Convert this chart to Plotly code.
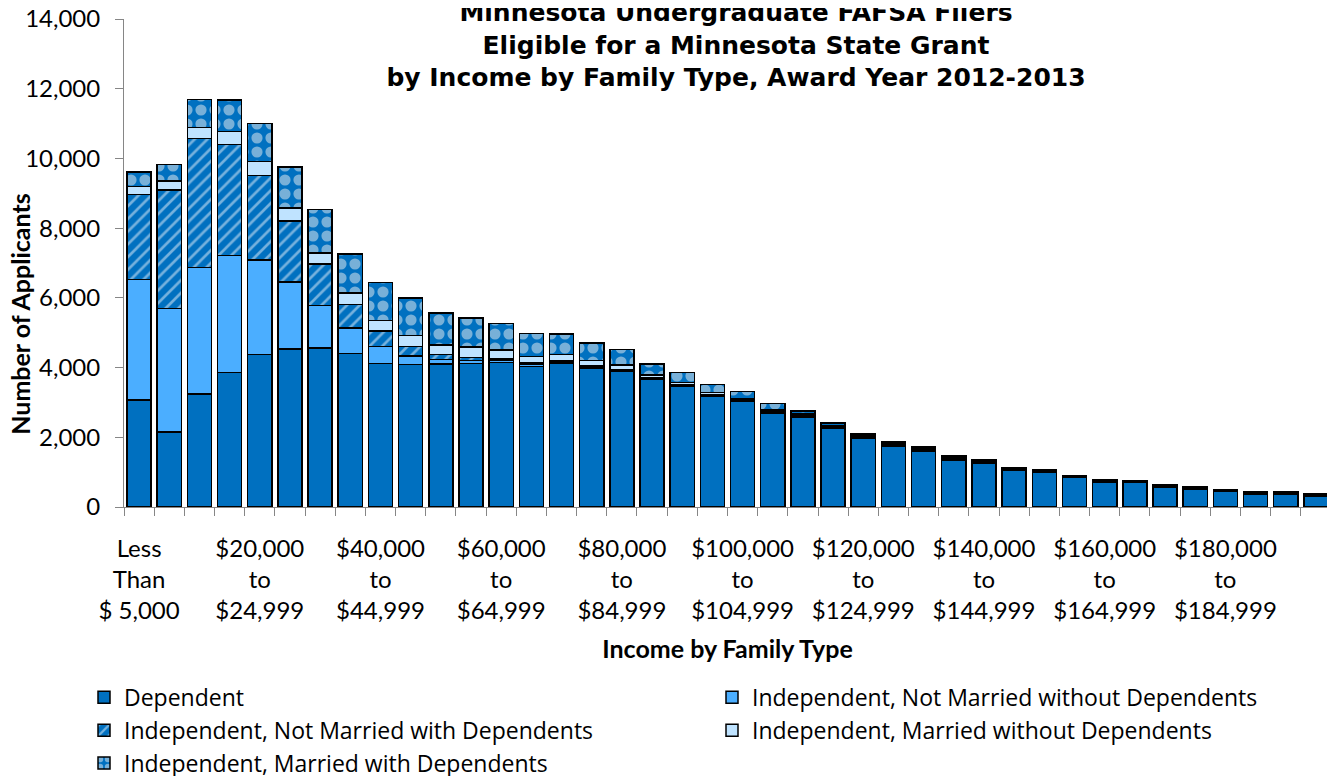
import plotly.graph_objects as go

# ---------------- data ----------------
categories = [
    "Less Than $ 5,000", "$5,000 to $9,999", "$10,000 to $14,999", "$15,000 to $19,999",
    "$20,000 to $24,999", "$25,000 to $29,999", "$30,000 to $34,999", "$35,000 to $39,999",
    "$40,000 to $44,999", "$45,000 to $49,999", "$50,000 to $54,999", "$55,000 to $59,999",
    "$60,000 to $64,999", "$65,000 to $69,999", "$70,000 to $74,999", "$75,000 to $79,999",
    "$80,000 to $84,999", "$85,000 to $89,999", "$90,000 to $94,999", "$95,000 to $99,999",
    "$100,000 to $104,999", "$105,000 to $109,999", "$110,000 to $114,999", "$115,000 to $119,999",
    "$120,000 to $124,999", "$125,000 to $129,999", "$130,000 to $134,999", "$135,000 to $139,999",
    "$140,000 to $144,999", "$145,000 to $149,999", "$150,000 to $154,999", "$155,000 to $159,999",
    "$160,000 to $164,999", "$165,000 to $169,999", "$170,000 to $174,999", "$175,000 to $179,999",
    "$180,000 to $184,999", "$185,000 to $189,999", "$190,000 to $194,999", "$195,000 to $199,999",
]

# labels shown on the axis (every fourth category)
tick_labels = [
    "Less<br>Than<br>$ 5,000", "$20,000<br>to<br>$24,999", "$40,000<br>to<br>$44,999",
    "$60,000<br>to<br>$64,999", "$80,000<br>to<br>$84,999", "$100,000<br>to<br>$104,999",
    "$120,000<br>to<br>$124,999", "$140,000<br>to<br>$144,999", "$160,000<br>to<br>$164,999",
    "$180,000<br>to<br>$184,999",
]
label_step = 4

dependent = [3071, 2146, 3243, 3853, 4368, 4530, 4559, 4406, 4120, 4082,
             4101, 4120, 4149, 4034, 4130, 3987, 3882, 3653, 3453, 3166,
             3023, 2699, 2585, 2251, 1974, 1745, 1612, 1354, 1268, 1049,
             1001, 849, 715, 715, 572, 505, 458, 372, 372, 315]

indep_not_married_no_dep = [3462, 3548, 3634, 3357, 2718, 1927, 1221, 725, 487, 248,
                            134, 76, 50, 50, 40, 40, 30, 20, 20, 20,
                            25, 30, 25, 25, 20, 20, 20, 20, 20, 15,
                            15, 10, 10, 10, 10, 10, 10, 10, 10, 10]

indep_not_married_dep = [2432, 3395, 3700, 3186, 2423, 1745, 1192, 677, 438, 277,
                         133, 96, 50, 50, 40, 30, 30, 30, 30, 30,
                         25, 30, 25, 25, 20, 20, 20, 20, 20, 15,
                         15, 12, 12, 10, 12, 12, 10, 12, 12, 12]

indep_married_no_dep = [229, 267, 315, 381, 400, 372, 315, 334, 305, 314,
                        277, 305, 250, 180, 160, 140, 130, 90, 74, 74,
                        40, 40, 30, 30, 30, 25, 25, 25, 20, 20,
                        20, 15, 15, 12, 15, 15, 12, 15, 15, 15]

indep_married_dep = [420, 468, 801, 906, 1088, 1183, 1249, 1116, 1097, 1068,
                     915, 820, 763, 668, 600, 506, 440, 315, 276, 229,
                     196, 177, 91, 72, 54, 50, 40, 40, 36, 26,
                     27, 20, 21, 16, 20, 30, 15, 20, 20, 20]

series_names = [
    "Dependent",
    "Independent, Not Married without Dependents",
    "Independent, Not Married with Dependents",
    "Independent, Married without Dependents",
    "Independent, Married with Dependents",
]

# ---------------- styles ----------------
DARK = "#0070C0"
styles = [
    dict(color=DARK),
    dict(color="#4BAEFF"),
    dict(color=DARK, pattern=dict(shape="/", fgcolor="#EAF2FA", size=9, solidity=0.3)),
    dict(color="#BFE3FF"),
    dict(color=DARK, pattern=dict(shape=".", fgcolor="#F0F0F0", size=14, solidity=0.5)),
]
legend_of = ["legend", "legend2", "legend", "legend2", "legend"]
series_values = [dependent, indep_not_married_no_dep, indep_not_married_dep,
                 indep_married_no_dep, indep_married_dep]

fig = go.Figure()
for name, vals, st, lg in zip(series_names, series_values, styles, legend_of):
    marker = dict(st)
    marker["line"] = dict(color="black", width=1.5)
    fig.add_trace(go.Bar(x=categories, y=vals, name=name, marker=marker, legend=lg))

ticktext = [tick_labels[i // label_step] if i % label_step == 0 else "" for i in range(len(categories))]

FONT = "Lato, Calibri, sans-serif"
LABEL_FONT = dict(family=FONT, size=24, color="black")
AXIS_GREY = "#868686"
W, H = 1327, 768   # page body adds an 8px offset inside the 1335x776 window
ML, MR, MT, MB = 115.7, 3.7, 10.5, 269.3
PLOT_H = H - MT - MB

legend_common = dict(
    orientation="v", traceorder="normal",
    xref="container", yref="container", xanchor="left", yanchor="top",
    font=dict(family="Open Sans, Lato, sans-serif", size=23, color="black"),
    bgcolor="rgba(0,0,0,0)", tracegroupgap=0,
)

fig.update_layout(
    width=W, height=H,
    barmode="stack", bargap=0.2,
    plot_bgcolor="white", paper_bgcolor="white",
    margin=dict(l=ML, r=MR, t=MT, b=MB, autoexpand=False),
    title=dict(
        text="<b>Minnesota Undergraduate FAFSA Filers<br>Eligible for a Minnesota State Grant<br>"
             "by Income by Family Type, Award Year 2012-2013</b>",
        font=dict(family="DejaVu Sans", size=25, color="black"),
        x=728 / W, xanchor="center", xref="container",
        y=1 - 13 / H, yanchor="top", yref="container",
    ),
    xaxis=dict(
        type="category", range=[-0.5, len(categories) - 0.5],
        tickmode="array", tickvals=categories, ticktext=ticktext,
        tickson="boundaries", ticks="outside", ticklen=8, tickcolor=AXIS_GREY, tickwidth=1,
        showline=True, linecolor=AXIS_GREY, linewidth=1, showgrid=False,
        tickangle=0, tickfont=LABEL_FONT, ticklabelstandoff=20,
        title=dict(text="<b>Income by Family Type</b>", standoff=17,
                   font=dict(family=FONT, size=25, color="black")),
        automargin=False,
    ),
    yaxis=dict(
        range=[0, 14000], dtick=2000, tickformat=",d",
        ticks="outside", ticklen=8, tickcolor=AXIS_GREY, tickwidth=1,
        showline=True, linecolor=AXIS_GREY, linewidth=1, showgrid=False, zeroline=False,
        tickfont=LABEL_FONT, ticklabelstandoff=10, ticklabeloverflow="allow",
        automargin=False,
    ),
    legend=dict(legend_common, x=76 / W, y=1 - 667.8 / H),
    legend2=dict(legend_common, x=704 / W, y=1 - 667.8 / H),
    annotations=[dict(
        text="<b>Number of Applicants</b>", textangle=-90,
        xref="paper", yref="paper",
        x=(12 - ML) / (W - ML - MR), y=1 - (305 - MT) / PLOT_H,
        xanchor="center", yanchor="middle", showarrow=False,
        font=dict(family=FONT, size=25, color="black"),
    )],
)

fig.write_html("out.html")
